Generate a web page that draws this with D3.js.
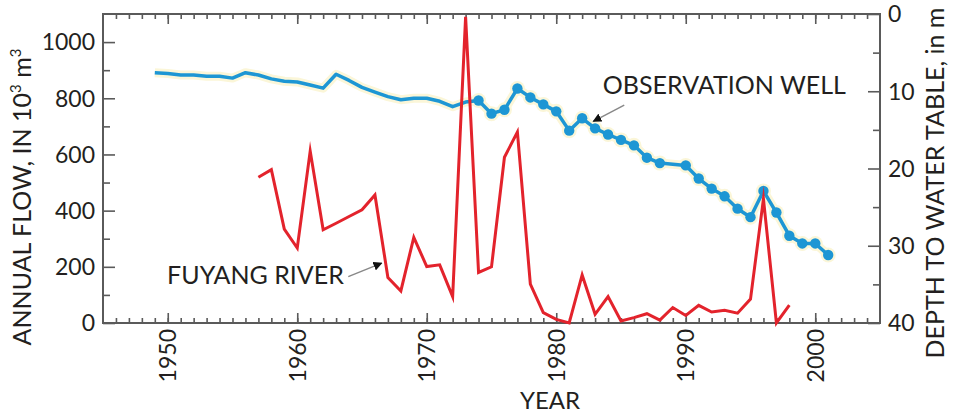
<!DOCTYPE html>
<html>
<head>
<meta charset="utf-8">
<script src="https://cdn.jsdelivr.net/npm/d3@7"></script>
<style>
  html, body { margin: 0; padding: 0; background: #fff; }
  svg { display: block; font-family: Lato, "Open Sans", sans-serif; }
</style>
</head>
<body>
<svg id="chart" width="954" height="414"></svg>
<script>
// ---- data ----
const flowYears = [1957,1958,1959,1960,1961,1962,1963,1964,1965,1966,1967,1968,1969,1970,1971,1972,1973,1974,1975,1976,1977,1978,1979,1980,1981,1982,1983,1984,1985,1986,1987,1988,1989,1990,1991,1992,1993,1994,1995,1996,1997,1998];
const flowValues = [519,546,334,267,612,332,355,379,403,456,162,114,305,201,207,94,1090,180,200,590,680,138,37,13,0,171,31,94,7,19,33,10,55,27,63,39,45,35,85,442,0,64];

const wellYears = [1949,1950,1951,1952,1953,1954,1955,1956,1957,1958,1959,1960,1961,1962,1963,1964,1965,1966,1967,1968,1969,1970,1971,1972,1973,1974,1975,1976,1977,1978,1979,1980,1981,1982,1983,1984,1985,1986,1987,1988,1990,1991,1992,1993,1994,1995,1996,1997,1998,1999,2000,2001];
const wellDepths = [7.6,7.7,7.9,7.9,8.05,8.05,8.3,7.6,7.9,8.4,8.7,8.8,9.2,9.6,7.8,8.6,9.5,10.1,10.7,11.1,10.9,10.9,11.3,12.0,11.4,11.2,12.9,12.4,9.65,10.8,11.7,12.6,15.1,13.5,14.8,15.6,16.3,17.0,18.6,19.3,19.6,21.3,22.6,23.6,25.2,26.3,22.9,25.7,28.7,29.7,29.7,31.2];
const wellMarkerFrom = 1974;

const xTicks = [1950,1960,1970,1980,1990,2000];
const flowTicks = [0,200,400,600,800,1000];
const depthTicks = [0,10,20,30,40];

// ---- layout ----
const svg = d3.select("#chart");
const L = 103, R = 880, T = 14, B = 323;
const x = d3.scaleLinear().domain([1945, 2005]).range([L, R]);
const yFlow = d3.scaleLinear().domain([0, 1100]).range([B, T]);
const yDepth = d3.scaleLinear().domain([0, 40]).range([T, B]);

const frameColor = "#5a5a5a";
const blue = "#1d96d4";
const red = "#e3232c";

// ---- axes (inward ticks) ----
const g = svg.append("g");
const minorYears = d3.range(1946, 2005);

const axBottom = g.append("g").attr("transform", `translate(0,${B})`);
axBottom.call(d3.axisTop(x).tickValues(minorYears).tickSize(5).tickFormat(""));
axBottom.append("g").call(d3.axisTop(x).tickValues(xTicks).tickSize(10).tickFormat(""));
const axTop = g.append("g").attr("transform", `translate(0,${T})`);
axTop.call(d3.axisBottom(x).tickValues(minorYears).tickSize(5).tickFormat(""));
axTop.append("g").call(d3.axisBottom(x).tickValues(xTicks).tickSize(10).tickFormat(""));
const axLeft = g.append("g").attr("transform", `translate(${L},0)`);
axLeft.call(d3.axisRight(yFlow).tickValues(d3.range(100, 1100, 200)).tickSize(7).tickFormat(""));
axLeft.append("g").call(d3.axisRight(yFlow).tickValues(flowTicks).tickSize(12).tickFormat(""));
const axRight = g.append("g").attr("transform", `translate(${R},0)`);
axRight.call(d3.axisLeft(yDepth).tickValues([5,15,25,35]).tickSize(7).tickFormat(""));
axRight.append("g").call(d3.axisLeft(yDepth).tickValues(depthTicks).tickSize(12).tickFormat(""));

g.selectAll(".domain").remove();
g.selectAll(".tick line").attr("stroke", frameColor).attr("stroke-width", 1.6);

svg.append("rect").attr("x", L).attr("y", T).attr("width", R - L).attr("height", B - T)
  .attr("fill", "none").attr("stroke", frameColor).attr("stroke-width", 2);

// tick labels
const labelColor = "#231f20";
svg.append("g").selectAll("text").data(flowTicks).join("text")
  .attr("x", 95).attr("y", d => yFlow(d)).attr("dy", "0.36em")
  .attr("text-anchor", "end").attr("font-size", 23).attr("fill", labelColor)
  .text(d => d);
svg.append("g").selectAll("text").data(depthTicks).join("text")
  .attr("x", 888).attr("y", d => yDepth(d)).attr("dy", "0.36em")
  .attr("text-anchor", "start").attr("font-size", 23).attr("fill", labelColor)
  .text(d => d);
svg.append("g").selectAll("text").data(xTicks).join("text")
  .attr("transform", d => `translate(${x(d)},329) rotate(-90)`)
  .attr("dy", "0.36em").attr("text-anchor", "end")
  .attr("font-size", 23).attr("fill", labelColor)
  .text(d => d);

// axis titles
svg.append("text").attr("x", 550).attr("y", 409).attr("text-anchor", "middle")
  .attr("font-size", 24).attr("fill", labelColor).text("YEAR");

const lt = svg.append("text").attr("transform", "translate(31,197) rotate(-90)")
  .attr("text-anchor", "middle").attr("font-size", 25).attr("fill", labelColor);
lt.append("tspan").text("ANNUAL FLOW, IN 10");
lt.append("tspan").attr("font-size", 15).attr("dy", -10).text("3");
lt.append("tspan").attr("dy", 10).text(" m");
lt.append("tspan").attr("font-size", 15).attr("dy", -10).text("3");

svg.append("text").attr("transform", "translate(944,183) rotate(-90)")
  .attr("text-anchor", "middle").attr("font-size", 25).attr("fill", labelColor)
  .text("DEPTH TO WATER TABLE, in m");

// ---- series ----
const well = wellYears.map((yr, i) => ({ year: yr, v: wellDepths[i] }));
const flow = flowYears.map((yr, i) => ({ year: yr, v: flowValues[i] }));

const wellLine = d3.line().x(d => x(d.year)).y(d => yDepth(d.v));
const flowLine = d3.line().x(d => x(d.year)).y(d => yFlow(d.v));

svg.append("path").datum(well).attr("d", wellLine)
  .attr("fill", "none").attr("stroke", "#fbf6d8").attr("stroke-width", 9)
  .attr("stroke-linejoin", "round");
svg.append("g").selectAll("circle").data(well.filter(d => d.year >= wellMarkerFrom)).join("circle")
  .attr("cx", d => x(d.year)).attr("cy", d => yDepth(d.v)).attr("r", 7.5).attr("fill", "#fbf6d8");

svg.append("path").datum(well).attr("d", wellLine)
  .attr("fill", "none").attr("stroke", blue).attr("stroke-width", 3.5)
  .attr("stroke-linejoin", "round");
svg.append("g").selectAll("circle").data(well.filter(d => d.year >= wellMarkerFrom)).join("circle")
  .attr("cx", d => x(d.year)).attr("cy", d => yDepth(d.v)).attr("r", 5.2).attr("fill", blue);

svg.append("path").datum(flow).attr("d", flowLine)
  .attr("fill", "none").attr("stroke", red).attr("stroke-width", 3)
  .attr("stroke-linejoin", "miter").attr("stroke-miterlimit", 10);

// ---- annotations ----
svg.append("defs").append("marker").attr("id", "ah")
  .attr("viewBox", "0 0 10 10").attr("refX", 9).attr("refY", 5)
  .attr("markerWidth", 9).attr("markerHeight", 9).attr("markerUnits", "userSpaceOnUse")
  .attr("orient", "auto")
  .append("path").attr("d", "M0,0 L10,5 L0,10 Z").attr("fill", "#111");

svg.append("text").attr("x", x(1983.6)).attr("y", yDepth(10.3))
  .attr("font-size", 25).attr("fill", labelColor).text("OBSERVATION WELL");
svg.append("line")
  .attr("x1", x(1985.25)).attr("y1", yDepth(11.8))
  .attr("x2", x(1982.86)).attr("y2", yDepth(13.9))
  .attr("stroke", "#888").attr("stroke-width", 1.5).attr("marker-end", "url(#ah)");

svg.append("text").attr("x", x(1963.6)).attr("y", yFlow(139)).attr("text-anchor", "end")
  .attr("font-size", 25).attr("fill", labelColor).text("FUYANG RIVER");
svg.append("line")
  .attr("x1", x(1963.94)).attr("y1", yFlow(165))
  .attr("x2", x(1966.52)).attr("y2", yFlow(213))
  .attr("stroke", "#888").attr("stroke-width", 1.5).attr("marker-end", "url(#ah)");
</script>
</body>
</html>
